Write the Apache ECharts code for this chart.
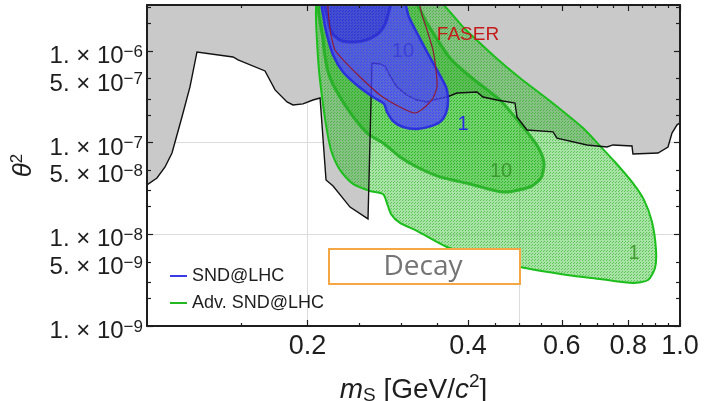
<!DOCTYPE html>
<html>
<head>
<meta charset="utf-8">
<script src="https://cdn.jsdelivr.net/npm/echarts@6/dist/echarts.min.js"></script>
<style>
  html, body { margin: 0; padding: 0; background: #fff; }
  #chart { width: 712px; height: 401px; }
</style>
</head>
<body>
<div id="chart"></div>
<script>
// Axis ranges: scalar mass m_S [GeV/c^2] and mixing theta^2
const massRange = [0.1, 1.0];
const thetaRange = [1e-9, 3.1623e-6];

// Tick positions
const massTickLabels = [0.2, 0.4, 0.6, 0.8, 1.0];
const massMinorTicks = [0.15, 0.25, 0.3, 0.35, 0.45, 0.5, 0.55, 0.65, 0.7, 0.75, 0.85, 0.9, 0.95];
const massGridLines = [0.2, 0.5];
const thetaTickLabels = [1e-6, 5e-7, 1e-7, 5e-8, 1e-8, 5e-9, 1e-9];
const thetaMajorTicks = [1e-6, 1e-7, 1e-8, 1e-9];
const thetaMinorTicks = [3e-6, 2e-6, 5e-7, 3e-7, 2e-7, 5e-8, 3e-8, 2e-8, 5e-9, 3e-9, 2e-9];
const thetaGridLines = [1e-6, 1e-7, 1e-8];

// Upper edge of existing exclusion (region above it is excluded)
const excludedBoundary = [
  [0.1000, 3.45e-8], [0.1044, 4.11e-8], [0.1081, 5.42e-8], [0.1114, 7.70e-8], [0.1163, 1.90e-7],
  [0.1204, 4.04e-7], [0.1241, 9.73e-7], [0.1450, 8.58e-7], [0.1482, 7.96e-7], [0.1665, 6.04e-7],
  [0.1739, 3.75e-7], [0.1831, 2.77e-7], [0.1879, 2.57e-7], [0.1962, 2.64e-7], [0.2048, 2.91e-7],
  [0.2112, 3.06e-7], [0.2167, 3.91e-8], [0.2234, 3.36e-8], [0.2404, 1.98e-8], [0.2598, 1.47e-8],
  [0.2643, 7.38e-7], [0.2736, 7.20e-7], [0.2796, 6.84e-7], [0.2857, 5.32e-7], [0.2944, 4.04e-7],
  [0.3074, 3.30e-7], [0.3210, 2.91e-7], [0.3352, 2.77e-7], [0.3500, 2.99e-7], [0.3654, 3.14e-7],
  [0.3815, 3.47e-7], [0.4160, 3.56e-7], [0.4269, 3.14e-7], [0.4536, 2.91e-7], [0.4902, 2.70e-7],
  [0.4945, 1.90e-7], [0.5163, 1.37e-7], [0.5778, 1.31e-7], [0.5878, 1.12e-7], [0.6692, 9.42e-8],
  [0.7295, 8.95e-8], [0.7486, 9.42e-8], [0.8126, 9.18e-8], [0.8161, 7.51e-8], [0.9094, 7.70e-8],
  [0.9495, 8.95e-8], [0.9660, 1.27e-7], [0.9872, 1.56e-7], [1.0000, 1.64e-7]
];
// Corners used to close the excluded area above the frame
const excludedTopCorners = [[1.0, 4e-6], [0.1, 4e-6]];

// Advanced SND@LHC: 1-event contour
const advSndOneEvent = [
  [0.2102, 4e-6], [0.2075, 2.66e-6], [0.2084, 1.31e-6], [0.2102, 6.19e-7], [0.2130, 3.14e-7],
  [0.2167, 1.56e-7], [0.2214, 8.31e-8], [0.2302, 5.02e-8], [0.2435, 3.54e-8], [0.2620, 2.97e-8],
  [0.2772, 2.75e-8], [0.2820, 2.19e-8], [0.2870, 1.66e-8], [0.2983, 1.33e-8], [0.3210, 1.09e-8],
  [0.3654, 7.27e-9], [0.4214, 5.80e-9], [0.5009, 4.40e-9], [0.6138, 3.60e-9], [0.7079, 3.25e-9],
  [0.8161, 2.94e-9], [0.8710, 3.17e-9], [0.8977, 4.29e-9], [0.9016, 6.74e-9], [0.8862, 1.36e-8],
  [0.8559, 2.37e-8], [0.8126, 3.72e-8], [0.7551, 6.14e-8], [0.7079, 9.18e-8], [0.6577, 1.44e-7],
  [0.5704, 2.84e-7], [0.5009, 5.06e-7], [0.4497, 8.58e-7], [0.3950, 1.73e-6], [0.3400, 4e-6]
];
// Advanced SND@LHC: 10-event contour
const advSndTenEvents = [
  [0.2121, 4e-6], [0.2139, 1.31e-6], [0.2195, 5.46e-7], [0.2352, 2.57e-7], [0.2587, 1.27e-7],
  [0.2772, 9.90e-8], [0.2983, 6.97e-8], [0.3210, 5.42e-8], [0.3546, 4.22e-8], [0.4036, 3.54e-8],
  [0.4655, 2.89e-8], [0.5231, 3.28e-8], [0.5486, 4.11e-8], [0.5557, 5.99e-8], [0.5415, 8.95e-8],
  [0.5075, 1.48e-7], [0.4595, 2.91e-7], [0.4071, 5.06e-7], [0.3702, 8.37e-7], [0.3367, 1.92e-6],
  [0.3100, 4e-6]
];
// SND@LHC: 1-event contour
const sndOneEvent = [
  [0.2139, 4e-6], [0.2148, 2.17e-6], [0.2176, 1.49e-6], [0.2234, 9.02e-7], [0.2332, 5.89e-7],
  [0.2488, 4.14e-7], [0.2655, 3.14e-7], [0.2784, 2.64e-7], [0.2820, 2.16e-7], [0.2894, 1.72e-7],
  [0.3022, 1.48e-7], [0.3210, 1.41e-7], [0.3425, 1.52e-7], [0.3576, 1.76e-7], [0.3654, 2.27e-7],
  [0.3670, 3.14e-7], [0.3639, 4.04e-7], [0.3500, 6.19e-7], [0.3352, 9.73e-7], [0.3210, 1.57e-6],
  [0.3101, 2.34e-6], [0.2990, 4e-6]
];
// SND@LHC: 10-event contour
const sndTenEvents = [
  [0.2160, 4e-6], [0.2186, 2.17e-6], [0.2224, 1.57e-6], [0.2302, 1.31e-6], [0.2425, 1.25e-6],
  [0.2576, 1.31e-6], [0.2724, 1.57e-6], [0.2808, 2.07e-6], [0.2850, 4e-6]
];
// FASER reach
const faserContour = [
  [0.2176, 4e-6], [0.2195, 2.17e-6], [0.2214, 1.49e-6], [0.2253, 1.02e-6], [0.2352, 7.57e-7],
  [0.2510, 5.19e-7], [0.2736, 3.30e-7], [0.2957, 2.51e-7], [0.3182, 2.10e-7], [0.3323, 2.44e-7],
  [0.3440, 3.06e-7], [0.3500, 4.04e-7], [0.3485, 6.19e-7], [0.3440, 1.02e-6], [0.3352, 1.69e-6],
  [0.3281, 2.46e-6], [0.3220, 4e-6]
];

// In-plot annotations
const contourLabelText = ['10', '1', '10', '1', 'FASER'];
const contourLabelAt = [[0.3022, 9.73e-7], [0.3916, 1.56e-7], [0.4615, 4.78e-8], [0.8197, 6.25e-9], [0.4002, 1.49e-6]];
const legendNames = ['SND@LHC', 'Adv. SND@LHC'];

const FONT = '"Liberation Sans", Arial, Helvetica, sans-serif';
const INK = '#1e1e1e';
const lg = Math.log10;
const toLog = pts => pts.map(p => [lg(p[0]), lg(p[1])]);

// Fine slanted hatch used for the sensitivity regions
function hatch(rgb, aLow, aHigh) {
  const c = document.createElement('canvas');
  c.width = 6; c.height = 3;
  const g = c.getContext('2d');
  g.fillStyle = `rgba(${rgb},${aLow})`;
  g.fillRect(0, 0, 6, 3);
  g.fillStyle = `rgba(${rgb},${aHigh})`;
  [[0, 2], [1, 1], [3, 2], [4, 1]].forEach(([x, y]) => g.fillRect(x, y, 1, 1));
  return { image: c, repeat: 'repeat' };
}

function shapeSeries(name, pts, z, kind, style, smooth) {
  const data = toLog(pts);
  return {
    type: 'custom', name, z, clip: true, silent: true,
    coordinateSystem: 'cartesian2d', xAxisIndex: 0, yAxisIndex: 0,
    data,
    renderItem(params, api) {
      if (params.dataIndex !== 0) return null;
      return {
        type: kind,
        shape: { points: data.map(d => api.coord(d)), smooth: smooth || 0 },
        style
      };
    }
  };
}

const labelStyles = [
  { fill: 'rgba(60,60,215,0.9)', font: `20px ${FONT}` },
  { fill: '#2b2be6', font: `20px ${FONT}` },
  { fill: 'rgba(55,150,40,0.9)', font: `20px ${FONT}` },
  { fill: 'rgba(55,150,40,0.9)', font: `20px ${FONT}` },
  { fill: '#c41a1a', font: `19px ${FONT}` }
];

const labelData = toLog(contourLabelAt);
const labelSeries = {
  type: 'custom', name: 'labels', z: 10, silent: true,
  coordinateSystem: 'cartesian2d', xAxisIndex: 0, yAxisIndex: 0,
  data: labelData,
  renderItem(params, api) {
    const p = api.coord(labelData[params.dataIndex]);
    const s = labelStyles[params.dataIndex];
    return {
      type: 'text', x: p[0], y: p[1],
      style: { text: contourLabelText[params.dataIndex], fill: s.fill, font: s.font, align: 'center', verticalAlign: 'middle' }
    };
  }
};

// Axes: several overlapping axes give long/short ticks, frame and grid lines
const frameLine = { show: true, onZero: false, lineStyle: { color: INK, width: 2 } };
const off = { axisLine: { show: false, onZero: false }, axisTick: { show: false }, axisLabel: { show: false }, splitLine: { show: false } };
const tickStyle = { color: INK, width: 1.2 };

function xAx(extra) {
  return Object.assign({ type: 'value', min: lg(massRange[0]), max: lg(massRange[1]), position: 'bottom', z: 20 }, off, extra);
}
function yAx(extra) {
  return Object.assign({ type: 'value', min: lg(thetaRange[0]), max: lg(thetaRange[1]), position: 'left', z: 20 }, off, extra);
}

const xAxes = [
  xAx({
    axisLine: frameLine,
    axisTick: { show: true, inside: true, length: 6, customValues: massTickLabels.map(lg), lineStyle: tickStyle },
    axisLabel: {
      show: true, customValues: massTickLabels.map(lg), margin: 7,
      showMinLabel: true, showMaxLabel: true, hideOverlap: false,
      fontSize: 27, fontFamily: FONT, color: INK,
      formatter: v => Math.pow(10, v).toFixed(1)
    },
    name: '{i|m}{sub|S}{n| [GeV/}{i|c}{sup|2}{n|]}',
    nameLocation: 'middle', nameGap: 46,
    nameTextStyle: {
      rich: {
        i: { fontFamily: FONT, fontStyle: 'italic', fontSize: 28, color: INK, lineHeight: 36 },
        n: { fontFamily: FONT, fontSize: 28, color: INK, lineHeight: 36 },
        sub: { fontFamily: FONT, fontSize: 19, color: INK, lineHeight: 16, padding: [11, 0, 0, 0], verticalAlign: 'middle' },
        sup: { fontFamily: FONT, fontSize: 19, color: INK, lineHeight: 12, verticalAlign: 'top' }
      }
    }
  }),
  xAx({ axisTick: { show: true, inside: true, length: 3, customValues: massMinorTicks.map(lg), lineStyle: tickStyle } }),
  xAx({ position: 'top', axisLine: frameLine, axisTick: { show: true, inside: true, length: 6, customValues: massTickLabels.map(lg), lineStyle: tickStyle } }),
  xAx({ position: 'top', axisTick: { show: true, inside: true, length: 3, customValues: massMinorTicks.map(lg), lineStyle: tickStyle } }),
  xAx({ z: 0, axisTick: { show: false, customValues: massGridLines.map(lg) }, splitLine: { show: true, lineStyle: { color: '#dcdcdc', width: 1 } } })
];

const yAxes = [
  yAx({
    axisLine: frameLine,
    axisTick: { show: true, inside: true, length: 6, customValues: thetaMajorTicks.map(lg), lineStyle: tickStyle },
    axisLabel: {
      show: true, customValues: thetaTickLabels.map(lg), margin: 4,
      showMinLabel: true, showMaxLabel: true, hideOverlap: false,
      padding: [11, 0, 0, 0],
      formatter: v => {
        const e = Math.floor(v + 1e-6);
        const m = Math.round(Math.pow(10, v - e));
        return `{b|${m}. \u00d7 10}{s|\u2212${-e}}`;
      },
      rich: {
        b: { fontFamily: FONT, fontSize: 24, color: INK, lineHeight: 26 },
        s: { fontFamily: FONT, fontSize: 17, color: INK, lineHeight: 12, verticalAlign: 'top' }
      }
    },
    name: '{t|\u03b8}{s|2}',
    nameLocation: 'middle', nameGap: 108,
    nameTextStyle: {
      rich: {
        t: { fontFamily: FONT, fontStyle: 'italic', fontSize: 26, color: INK, lineHeight: 30 },
        s: { fontFamily: FONT, fontSize: 17, color: INK, lineHeight: 12, verticalAlign: 'top' }
      }
    }
  }),
  yAx({ axisTick: { show: true, inside: true, length: 4, customValues: thetaMinorTicks.map(lg), lineStyle: tickStyle } }),
  yAx({ position: 'right', axisLine: frameLine, axisTick: { show: true, inside: true, length: 6, customValues: thetaMajorTicks.map(lg), lineStyle: tickStyle } }),
  yAx({ position: 'right', axisTick: { show: true, inside: true, length: 4, customValues: thetaMinorTicks.map(lg), lineStyle: tickStyle } }),
  yAx({ z: 0, axisTick: { show: false, customValues: thetaGridLines.map(lg) }, splitLine: { show: true, lineStyle: { color: '#dcdcdc', width: 1 } } })
];

const greenHatch = hatch('30,180,20', 0.38, 0.56);

const series = [
  shapeSeries('excluded', excludedBoundary.concat(excludedTopCorners), 2, 'polygon', { fill: '#c9c9c9', stroke: null }),
  shapeSeries(legendNames[1], advSndOneEvent, 3, 'polygon',
    { fill: greenHatch, stroke: 'rgb(28,190,28)', lineWidth: 2 }, 0.25),
  shapeSeries('adv-10', advSndTenEvents, 4, 'polygon',
    { fill: greenHatch, stroke: 'rgba(30,175,30,0.85)', lineWidth: 3 }, 0.25),
  shapeSeries('excluded-edge', excludedBoundary, 5, 'polyline', { fill: null, stroke: '#111', lineWidth: 1.4 }),
  shapeSeries(legendNames[0], sndOneEvent, 6, 'polygon',
    { fill: hatch('75,65,255', 0.72, 0.88), stroke: 'rgba(40,40,225,0.9)', lineWidth: 2.5 }, 0.25),
  shapeSeries('snd-10', sndTenEvents, 7, 'polygon',
    { fill: hatch('35,35,205', 0.3, 0.45), stroke: 'rgba(40,40,210,0.75)', lineWidth: 3 }, 0.25),
  shapeSeries('faser', faserContour, 8, 'polyline', { fill: null, stroke: '#8f1a3a', lineWidth: 1.2 }, 0.2),
  labelSeries
];

const chart = echarts.init(document.getElementById('chart'), null, { renderer: 'canvas' });
chart.setOption({
  animation: false,
  backgroundColor: '#fff',
  grid: { left: 147, right: 32, top: 5, bottom: 75, containLabel: false, outerBoundsMode: 'none' },
  xAxis: xAxes,
  yAxis: yAxes,
  legend: {
    orient: 'vertical', left: 165, top: 262, itemWidth: 17, itemHeight: 2, itemGap: 9,
    icon: 'rect', selectedMode: false,
    textStyle: { fontFamily: FONT, fontSize: 18, color: INK },
    data: [
      { name: legendNames[0], itemStyle: { color: '#3a3ae6' } },
      { name: legendNames[1], itemStyle: { color: '#22b822' } }
    ]
  },
  graphic: [
    { type: 'rect', z: 50, x: 329, y: 249, shape: { width: 191, height: 35 },
      style: { fill: '#fff', stroke: '#f6a745', lineWidth: 2 } },
    { type: 'text', z: 51, x: 423, y: 267,
      style: { text: 'Decay', fill: '#747474', font: '28px "Open Sans", sans-serif', align: 'center', verticalAlign: 'middle' } }
  ],
  series
});
</script>
</body>
</html>
